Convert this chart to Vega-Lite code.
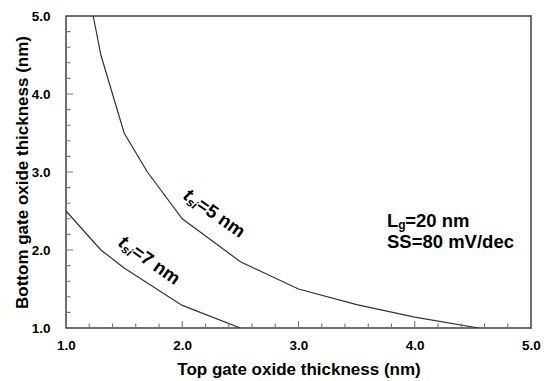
{
  "$schema": "https://vega.github.io/schema/vega-lite/v6.json",
  "width": 465,
  "height": 312,
  "autosize": "none",
  "padding": {"left": 66, "top": 16, "right": 13, "bottom": 53},
  "config": {
    "view": {"stroke": "#404040", "strokeWidth": 1.5},
    "font": "Liberation Sans"
  },
  "datasets": {
    "curves": [
      {"series": "tsi=5", "x": 1.234, "y": 5.0},
      {"series": "tsi=5", "x": 1.3, "y": 4.5},
      {"series": "tsi=5", "x": 1.5, "y": 3.5},
      {"series": "tsi=5", "x": 1.7, "y": 3.0},
      {"series": "tsi=5", "x": 2.0, "y": 2.4},
      {"series": "tsi=5", "x": 2.5, "y": 1.85},
      {"series": "tsi=5", "x": 3.0, "y": 1.5},
      {"series": "tsi=5", "x": 3.5, "y": 1.3},
      {"series": "tsi=5", "x": 4.0, "y": 1.14},
      {"series": "tsi=5", "x": 4.55, "y": 1.0},
      {"series": "tsi=7", "x": 1.0, "y": 2.5},
      {"series": "tsi=7", "x": 1.3, "y": 2.0},
      {"series": "tsi=7", "x": 1.5, "y": 1.77},
      {"series": "tsi=7", "x": 2.0, "y": 1.29},
      {"series": "tsi=7", "x": 2.5, "y": 1.0}
    ],
    "majorTicks": [{"v": 2}, {"v": 3}, {"v": 4}],
    "minorTicks": [
      {"v": 1.2}, {"v": 1.4}, {"v": 1.6}, {"v": 1.8},
      {"v": 2.2}, {"v": 2.4}, {"v": 2.6}, {"v": 2.8},
      {"v": 3.2}, {"v": 3.4}, {"v": 3.6}, {"v": 3.8},
      {"v": 4.2}, {"v": 4.4}, {"v": 4.6}, {"v": 4.8}
    ],
    "rotated": [
      {"x": 1.998, "y": 2.667, "lead": "t", "sub": "si", "rest": "=5 nm"},
      {"x": 1.439, "y": 2.064, "lead": "t", "sub": "si", "rest": "=7 nm"}
    ],
    "notes": [
      {"x": 3.761, "y": 2.30, "lead": "L", "sub": "g", "rest": "=20 nm"}
    ],
    "notes2": [
      {"x": 3.761, "y": 2.026, "text": "SS=80 mV/dec"}
    ]
  },
  "resolve": {"axis": {"x": "independent", "y": "independent"}},
  "layer": [
    {
      "data": {"name": "curves"},
      "mark": {"type": "line", "color": "#333333", "strokeWidth": 1.2, "clip": true},
      "encoding": {
        "x": {
          "field": "x", "type": "quantitative",
          "scale": {"domain": [1, 5], "nice": false, "zero": false},
          "axis": {
            "orient": "bottom",
            "offset": -7,
            "title": "Top gate oxide thickness (nm)",
            "values": [1, 2, 3, 4, 5],
            "format": ".1f",
            "labelOverlap": false, "labelFlush": false,
            "grid": false, "domain": false,
            "ticks": true,
            "tickSize": 7,
            "tickColor": "#777", "tickWidth": 1, "tickOpacity": 0,
            "labelFont": "Liberation Sans", "labelFontSize": 13.5, "labelFontWeight": "bold", "labelColor": "black",
            "labelPadding": 10,
            "titleFont": "Liberation Sans", "titleFontSize": 17, "titleFontWeight": "bold", "titleColor": "black",
            "titleBaseline": "alphabetic", "titleY": 53
          }
        },
        "y": {
          "field": "y", "type": "quantitative",
          "scale": {"domain": [1, 5], "nice": false, "zero": false},
          "axis": {
            "orient": "left",
            "offset": -7,
            "title": "Bottom gate oxide thickness (nm)",
            "values": [1, 2, 3, 4, 5],
            "format": ".1f",
            "labelOverlap": false, "labelFlush": false,
            "grid": false, "domain": false,
            "ticks": true,
            "tickSize": 7,
            "tickColor": "#777", "tickWidth": 1, "tickOpacity": 0,
            "labelFont": "Liberation Sans", "labelFontSize": 13.5, "labelFontWeight": "bold", "labelColor": "black",
            "labelPadding": 16,
            "titleFont": "Liberation Sans", "titleFontSize": 17, "titleFontWeight": "bold", "titleColor": "black",
            "titleBaseline": "alphabetic", "titleX": -46
          }
        },
        "detail": {"field": "series"}
      }
    },
    {
      "data": {"name": "majorTicks"},
      "mark": {"type": "rect", "fill": "#777", "stroke": "#777", "strokeWidth": 1.1},
      "encoding": {
        "x": {"field": "v", "type": "quantitative", "axis": null},
        "x2": {"field": "v"},
        "y": {"datum": 1, "type": "quantitative", "axis": null},
        "y2": {"datum": 1.0897}
      }
    },
    {
      "data": {"name": "minorTicks"},
      "mark": {"type": "rect", "fill": "#777", "stroke": "#777", "strokeWidth": 1.1},
      "encoding": {
        "x": {"field": "v", "type": "quantitative", "axis": null},
        "x2": {"field": "v"},
        "y": {"datum": 1, "type": "quantitative", "axis": null},
        "y2": {"datum": 1.0577}
      }
    },
    {
      "data": {"name": "majorTicks"},
      "mark": {"type": "rect", "fill": "#777", "stroke": "#777", "strokeWidth": 1.1},
      "encoding": {
        "y": {"field": "v", "type": "quantitative", "axis": null},
        "y2": {"field": "v"},
        "x": {"datum": 1, "type": "quantitative", "axis": null},
        "x2": {"datum": 1.0602}
      }
    },
    {
      "data": {"name": "minorTicks"},
      "mark": {"type": "rect", "fill": "#777", "stroke": "#777", "strokeWidth": 1.1},
      "encoding": {
        "y": {"field": "v", "type": "quantitative", "axis": null},
        "y2": {"field": "v"},
        "x": {"datum": 1, "type": "quantitative", "axis": null},
        "x2": {"datum": 1.0387}
      }
    },
    {
      "data": {"name": "rotated"},
      "mark": {"type": "text", "align": "left", "baseline": "alphabetic", "angle": 35, "font": "Liberation Sans", "fontWeight": "bold", "fontStyle": "italic", "fontSize": 19, "color": "black"},
      "encoding": {
        "x": {"field": "x", "type": "quantitative", "axis": null},
        "y": {"field": "y", "type": "quantitative", "axis": null},
        "text": {"field": "lead"}
      }
    },
    {
      "data": {"name": "rotated"},
      "mark": {"type": "text", "align": "left", "baseline": "alphabetic", "angle": 35, "dx": 6.3, "dy": 3, "font": "Liberation Sans", "fontWeight": "bold", "fontStyle": "italic", "fontSize": 12, "color": "black"},
      "encoding": {
        "x": {"field": "x", "type": "quantitative", "axis": null},
        "y": {"field": "y", "type": "quantitative", "axis": null},
        "text": {"field": "sub"}
      }
    },
    {
      "data": {"name": "rotated"},
      "mark": {"type": "text", "align": "left", "baseline": "alphabetic", "angle": 35, "dx": 16.5, "font": "Liberation Sans", "fontWeight": "bold", "fontSize": 18.5, "color": "black"},
      "encoding": {
        "x": {"field": "x", "type": "quantitative", "axis": null},
        "y": {"field": "y", "type": "quantitative", "axis": null},
        "text": {"field": "rest"}
      }
    },
    {
      "data": {"name": "notes"},
      "mark": {"type": "text", "align": "left", "baseline": "alphabetic", "font": "Liberation Sans", "fontWeight": "bold", "fontSize": 18.5, "color": "black"},
      "encoding": {
        "x": {"field": "x", "type": "quantitative", "axis": null},
        "y": {"field": "y", "type": "quantitative", "axis": null},
        "text": {"field": "lead"}
      }
    },
    {
      "data": {"name": "notes"},
      "mark": {"type": "text", "align": "left", "baseline": "alphabetic", "dx": 11.3, "dy": 2, "font": "Liberation Sans", "fontWeight": "bold", "fontSize": 12, "color": "black"},
      "encoding": {
        "x": {"field": "x", "type": "quantitative", "axis": null},
        "y": {"field": "y", "type": "quantitative", "axis": null},
        "text": {"field": "sub"}
      }
    },
    {
      "data": {"name": "notes"},
      "mark": {"type": "text", "align": "left", "baseline": "alphabetic", "dx": 18.3, "font": "Liberation Sans", "fontWeight": "bold", "fontSize": 18.5, "color": "black"},
      "encoding": {
        "x": {"field": "x", "type": "quantitative", "axis": null},
        "y": {"field": "y", "type": "quantitative", "axis": null},
        "text": {"field": "rest"}
      }
    },
    {
      "data": {"name": "notes2"},
      "mark": {"type": "text", "align": "left", "baseline": "alphabetic", "font": "Liberation Sans", "fontWeight": "bold", "fontSize": 18.5, "color": "black"},
      "encoding": {
        "x": {"field": "x", "type": "quantitative", "axis": null},
        "y": {"field": "y", "type": "quantitative", "axis": null},
        "text": {"field": "text"}
      }
    }
  ]
}
